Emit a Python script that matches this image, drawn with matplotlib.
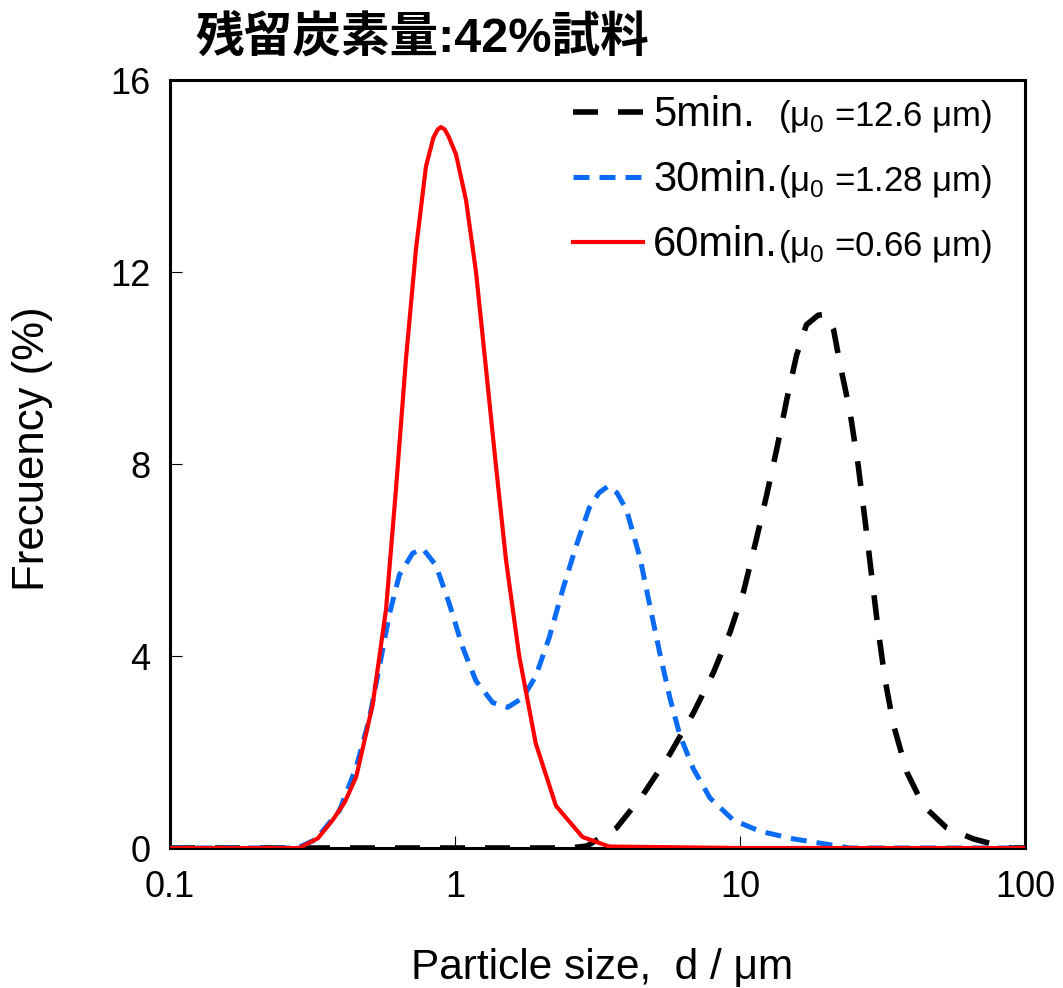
import matplotlib
matplotlib.use("Agg")
import matplotlib.pyplot as plt
from matplotlib.ticker import FixedLocator, FixedFormatter, NullLocator

plt.rcParams['font.family'] = ['Liberation Sans', 'DejaVu Sans', 'Noto Sans CJK JP']
plt.rcParams['mathtext.fontset'] = 'custom'
plt.rcParams['mathtext.rm'] = 'Liberation Sans'

# 5 min. sample
x_5min = [0.1, 0.3, 1.0, 2.5, 2.9, 3.69, 4.58, 5.68, 6.86, 8.06, 9.23, 10.3, 11.4, 12.4,
          13.5, 14.6, 15.8, 17.1, 18.8, 20.0, 21.3, 22.4, 24.3, 26.0, 27.5, 29.0, 30.6,
          32.3, 34.5, 38.5, 44.0, 53.1, 65.9, 81.6, 90.0, 100.0]
y_5min = [0, 0, 0, 0, 0.04, 0.42, 1.12, 1.96, 2.81, 3.65, 4.5, 5.35, 6.42, 7.35,
          8.35, 9.35, 10.27, 10.9, 11.1, 11.12, 10.8, 10.1, 9.1, 7.96, 6.8, 5.65, 4.5,
          3.5, 2.58, 1.58, 0.88, 0.42, 0.19, 0.04, 0, 0]

# 30 min. sample
x_30min = [0.1, 0.2, 0.28, 0.325, 0.393, 0.45, 0.50, 0.543, 0.589, 0.638, 0.71, 0.77,
           0.857, 0.955, 1.064, 1.185, 1.356, 1.53, 1.73, 1.92, 2.14, 2.39, 2.66, 2.96,
           3.2, 3.45, 3.7, 4.0, 4.46, 4.83, 5.24, 5.68, 6.15, 6.86, 7.85, 9.48, 11.75,
           15.4, 20.1, 24.3, 50.0, 100.0]
y_30min = [0, 0, 0, 0.18, 0.78, 1.68, 2.68, 3.78, 4.88, 5.69, 6.14, 6.24,
           5.89, 5.09, 4.18, 3.48, 3.03, 2.93, 3.13, 3.58, 4.38, 5.39, 6.29, 7.09,
           7.4, 7.54, 7.4, 7.04, 6.04, 5.04, 4.04, 3.12, 2.35, 1.65, 1.04, 0.58, 0.35,
           0.19, 0.08, 0, 0, 0]

# 60 min. sample
x_60min = [0.1, 0.2, 0.284, 0.33, 0.372, 0.41, 0.45, 0.514, 0.573, 0.621, 0.673, 0.730,
           0.791, 0.84, 0.87, 0.893, 0.92, 0.95, 1.008, 1.093, 1.185, 1.284, 1.39, 1.51,
           1.68, 1.92, 2.26, 2.8, 3.48, 10.0, 100.0]
y_60min = [0, 0, 0, 0.2, 0.58, 0.95, 1.48, 2.98, 4.98, 7.49, 10.19, 12.49,
           14.2, 14.8, 14.97, 15.02, 14.97, 14.82, 14.45, 13.5, 12.0, 10.0, 8.0, 6.0,
           4.0, 2.18, 0.88, 0.23, 0.03, 0, 0]

labels = ["5min.", "30min.", "60min."]
mu_labels = [r"(μ$_\mathregular{0}$ =12.6 μm)", r"(μ$_\mathregular{0}$ =1.28 μm)",
             r"(μ$_\mathregular{0}$ =0.66 μm)"]
x_ticks = [0.1, 1, 10, 100]
x_ticklabels = ["0.1", "1", "10", "100"]
y_ticks = [0, 4, 8, 12, 16]

fig = plt.figure(figsize=(10.63, 9.88), dpi=100)
ax = fig.add_axes([170 / 1063, 1 - 848 / 988, 855 / 1063, 768 / 988])

l1, = ax.plot(x_5min, y_5min, color='black', lw=4.0, dashes=(4.5, 3.6), zorder=2)
l2, = ax.plot(x_30min, y_30min, color='#0A6CF5', lw=3.6, dashes=(3.2, 2.0), zorder=3)
l3, = ax.plot(x_60min, y_60min, color='#FF0000', lw=3.0, zorder=4)

ax.set_xscale('log')
ax.set_xlim(0.1, 100)
ax.set_ylim(0, 16)
ax.xaxis.set_major_locator(FixedLocator(x_ticks))
ax.xaxis.set_major_formatter(FixedFormatter(x_ticklabels))
ax.xaxis.set_minor_locator(NullLocator())
ax.set_yticks(y_ticks)

for s in ax.spines.values():
    s.set_linewidth(2.2)
ax.tick_params(direction='in', length=8.5, width=0.8, labelsize=26, pad=14)
ax.tick_params(axis='x', pad=16)

ax.set_xlabel("Particle size,  d / μm", fontsize=30.5)
ax.set_ylabel("Frecuency (%)", fontsize=31.5)
ax.xaxis.set_label_coords(0.505, -0.13)
ax.yaxis.set_label_coords(-0.137, 0.52)

leg = ax.legend([l1, l2, l3], labels, loc='upper left', bbox_to_anchor=(0.471, 0.98),
                frameon=False, fontsize=30, handlelength=1.68, handletextpad=0.25,
                labelspacing=0.6, borderpad=0, borderaxespad=0)
texts = leg.get_texts()
for i, t in enumerate(mu_labels):
    ax.annotate(t, xy=(1, 0), xycoords=(texts[1], texts[i]), ha='left', va='bottom',
                fontsize=25, zorder=10)

fig.text(195 / 1063, 1 - 38 / 988, "残留炭素量:42%試料", fontsize=35, fontweight='bold',
         family=['Liberation Sans', 'Noto Sans CJK JP'], ha='left', va='center')

fig.savefig("out.png", dpi=100)
